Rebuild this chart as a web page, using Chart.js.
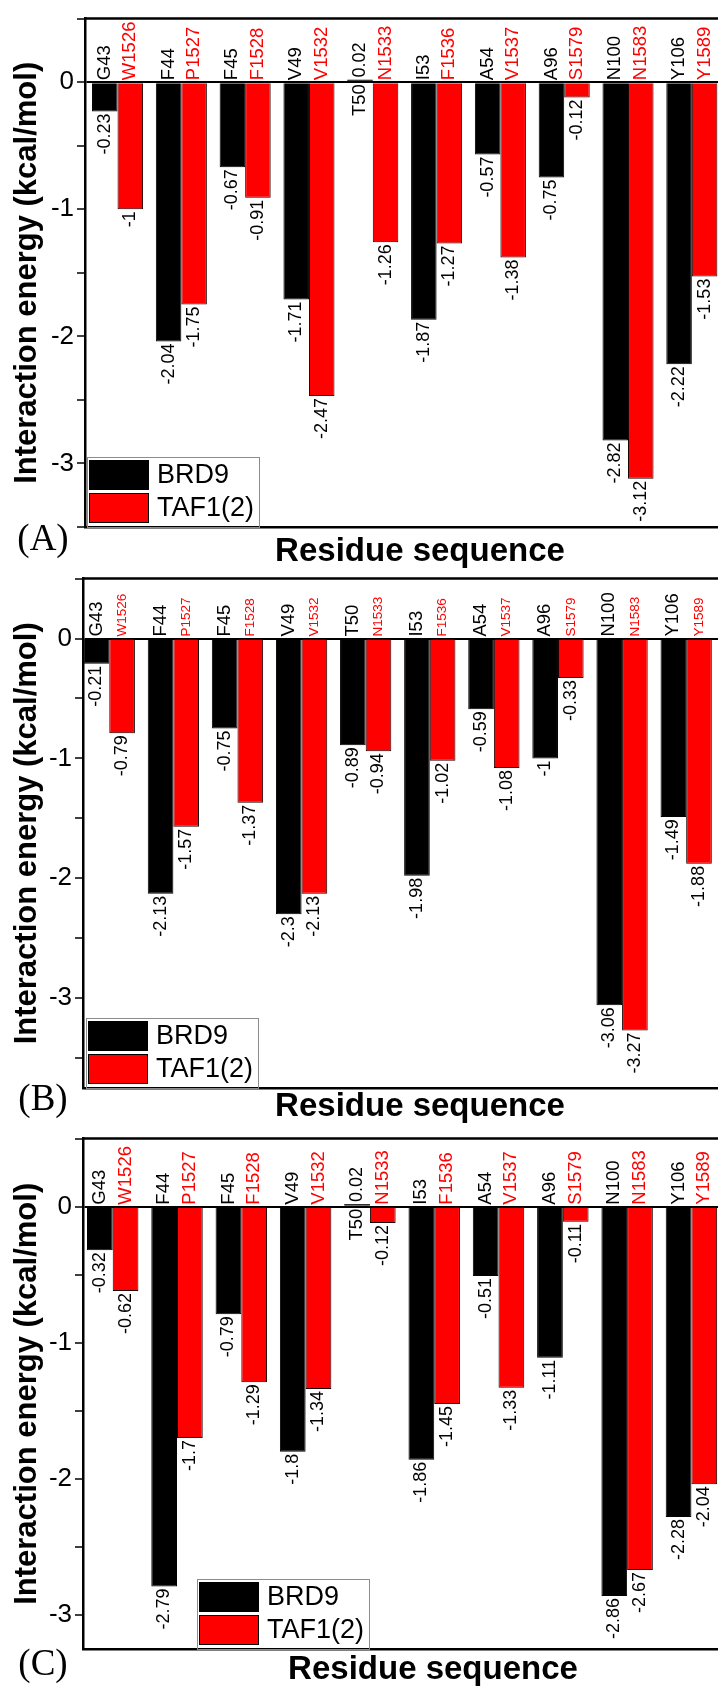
<!DOCTYPE html>
<html>
<head>
<meta charset="utf-8">
<title>Residue interaction energy</title>
<script src="https://cdn.jsdelivr.net/npm/chart.js@4.4.1/dist/chart.umd.min.js"></script>
<style>
  html, body { margin: 0; padding: 0; background: #fff; }
  #page { position: relative; width: 718px; height: 1690px; overflow: hidden; background: #fff; }
  #page canvas { position: absolute; left: 0; }
</style>
</head>
<body>
<div id="page">
  <canvas id="chartA" width="760" height="577" style="top:0px"></canvas>
  <canvas id="chartB" width="762" height="578" style="top:560px"></canvas>
  <canvas id="chartC" width="790" height="570" style="top:1120px"></canvas>
</div>
<script>
  // residues, one bar pair per residue position
  var brd9Residues = ["G43", "F44", "F45", "V49", "T50", "I53", "A54", "A96", "N100", "Y106"];
  var taf1Residues = ["W1526", "P1527", "F1528", "V1532", "N1533", "F1536", "V1537", "S1579", "N1583", "Y1589"];

  // interaction energies (kcal/mol)
  var brd9A = [-0.23, -2.04, -0.67, -1.71, 0.02, -1.87, -0.57, -0.75, -2.82, -2.22];
  var taf1A = [-1, -1.75, -0.91, -2.47, -1.26, -1.27, -1.38, -0.12, -3.12, -1.53];

  var brd9B = [-0.21, -2.13, -0.75, -2.3, -0.89, -1.98, -0.59, -1, -3.06, -1.49];
  var taf1B = [-0.79, -1.57, -1.37, -2.13, -0.94, -1.02, -1.08, -0.33, -3.27, -1.88];

  var brd9C = [-0.32, -2.79, -0.79, -1.8, 0.02, -1.86, -0.51, -1.11, -2.86, -2.28];
  var taf1C = [-0.62, -1.7, -1.29, -1.34, -0.12, -1.45, -1.33, -0.11, -2.67, -2.04];

  var seriesNames = ["BRD9", "TAF1(2)"];
  var yTitle = "Interaction energy (kcal/mol)";
  var xTitle = "Residue sequence";

  var SANS = '"Liberation Sans", Arial, sans-serif';
  var SERIF = '"Liberation Serif", "Times New Roman", serif';
  var RED = "#ff0000";

  Chart.defaults.font.family = SANS;
  Chart.defaults.color = "#000";

  function toPoints(values) {
    return values.map(function (v, i) { return { x: i, y: v }; });
  }

  function drawRotated(ctx, text, x, y, align, font, color) {
    ctx.save();
    ctx.translate(x, y);
    ctx.rotate(-Math.PI / 2);
    ctx.font = font;
    ctx.fillStyle = color;
    ctx.textAlign = align;
    ctx.textBaseline = "middle";
    ctx.fillText(text, 0, 0);
    ctx.restore();
  }

  /** top (and right) border of the plot box */
  var frame = {
    id: "frame",
    afterDraw: function (chart) {
      var a = chart.chartArea, ctx = chart.ctx;
      ctx.save();
      ctx.strokeStyle = "#000";
      ctx.lineWidth = 2.5;
      ctx.beginPath();
      ctx.moveTo(a.left - 1, a.top);
      ctx.lineTo(a.right, a.top);
      ctx.lineTo(a.right, a.bottom);
      ctx.stroke();
      ctx.restore();
    }
  };

  /** residue name on the zero side, value at the bar end, both turned 90 degrees */
  var barLabels = {
    id: "barLabels",
    afterDatasetsDraw: function (chart, args, opts) {
      var ctx = chart.ctx;
      chart.data.datasets.forEach(function (ds, d) {
        var meta = chart.getDatasetMeta(d);
        meta.data.forEach(function (bar, i) {
          var v = ds.data[i].y;
          var up = v >= 0;
          drawRotated(ctx, ds.residues[i], bar.x, up ? bar.base + 3 : bar.base - 3,
            up ? "right" : "left", ds.nameFont, ds.nameColor);
          drawRotated(ctx, String(v), bar.x, up ? bar.y - 2 : bar.y + 2,
            up ? "left" : "right", opts.valueFont, "#000");
        });
      });
    }
  };

  /** boxed legend sitting on the bottom axis */
  var boxLegend = {
    id: "boxLegend",
    afterDatasetsDraw: function (chart, args, opts) {
      var a = chart.chartArea, ctx = chart.ctx;
      var w = 172, h = 70;
      var x = a.left + opts.offset, y = a.bottom - h;
      ctx.save();
      ctx.fillStyle = "#fff";
      ctx.fillRect(x, y, w, h - 1.5);
      ctx.strokeStyle = "#8c8c8c";
      ctx.lineWidth = 1;
      ctx.strokeRect(x + 0.5, y + 0.5, w, h);
      chart.data.datasets.forEach(function (ds, i) {
        var sy = y + 3 + i * 33;
        ctx.fillStyle = ds.backgroundColor;
        ctx.fillRect(x + 2, sy, 60, 30);
        ctx.strokeStyle = "#000";
        ctx.strokeRect(x + 2.5, sy + 0.5, 59, 29);
        ctx.fillStyle = "#000";
        ctx.font = "27px " + SANS;
        ctx.textAlign = "left";
        ctx.textBaseline = "middle";
        ctx.fillText(ds.label, x + 70, sy + 16);
      });
      ctx.restore();
    }
  };

  /** (A) / (B) / (C) tag under the y axis */
  var panelTag = {
    id: "panelTag",
    afterDraw: function (chart, args, opts) {
      var ctx = chart.ctx;
      ctx.save();
      ctx.font = "37px " + SERIF;
      ctx.fillStyle = "#000";
      ctx.textAlign = "center";
      ctx.textBaseline = "middle";
      ctx.fillText(opts.text, opts.x, opts.y);
      ctx.restore();
    }
  };

  function halfSteps(scale) {
    var ticks = [];
    for (var k = Math.ceil(scale.min / 0.5); k * 0.5 <= scale.max + 1e-9; k++) {
      ticks.push({ value: k * 0.5 });
    }
    scale.ticks = ticks;
  }

  function makeChart(id, p) {
    return new Chart(document.getElementById(id), {
      type: "bar",
      data: {
        datasets: [
          {
            label: seriesNames[0],
            data: toPoints(p.brd9),
            backgroundColor: "#000",
            borderColor: "#000",
            borderWidth: 1,
            residues: brd9Residues,
            nameFont: "18.5px " + SANS,
            nameColor: "#000"
          },
          {
            label: seriesNames[1],
            data: toPoints(p.taf1),
            backgroundColor: RED,
            borderColor: "#1a0000",
            borderWidth: 1,
            residues: taf1Residues,
            nameFont: p.redNameSize + "px " + SANS,
            nameColor: RED
          }
        ]
      },
      options: {
        responsive: false,
        animation: false,
        devicePixelRatio: 1,
        layout: { padding: { top: p.padTop, right: p.padRight, left: 0, bottom: 0 } },
        datasets: { bar: { categoryPercentage: 0.8, barPercentage: 1 } },
        plugins: {
          legend: { display: false },
          tooltip: { enabled: false },
          barLabels: { valueFont: "18px " + SANS },
          boxLegend: { offset: p.legendOffset },
          panelTag: { text: p.tag, x: 43, y: p.tagY }
        },
        scales: {
          x: {
            type: "linear",
            min: p.xMin,
            max: p.xMax,
            offset: false,
            afterBuildTicks: function (s) {
              s.ticks = brd9Residues.map(function (r, i) { return { value: i }; });
            },
            afterFit: function (s) { s.height = p.xHeight; },
            ticks: { display: false },
            grid: { display: true, offset: false, drawOnChartArea: false, drawTicks: false },
            border: { color: "#000", width: 2.5 },
            title: {
              display: true,
              text: xTitle,
              color: "#000",
              font: { size: 33, weight: "bold" },
              padding: { top: 0, bottom: p.xTitlePad }
            }
          },
          y: {
            min: p.yMin,
            max: p.yMax,
            afterBuildTicks: halfSteps,
            afterFit: function (s) { s.width = p.yWidth; },
            ticks: {
              autoSkip: false,
              color: "#000",
              padding: 3,
              font: { size: 26 },
              callback: function (v) { return v % 1 === 0 ? String(v) : ""; }
            },
            grid: {
              color: function (c) { return c.tick && c.tick.value === 0 ? "#000" : "rgba(0,0,0,0)"; },
              lineWidth: 2,
              tickColor: "#000",
              tickLength: 8,
              tickWidth: 1.5
            },
            border: { color: "#000", width: 2.5 },
            title: {
              display: true,
              text: yTitle,
              color: "#000",
              font: { size: 31, weight: "bold" },
              padding: { top: 9, bottom: 0 }
            }
          }
        }
      },
      plugins: [frame, barLabels, boxLegend, panelTag]
    });
  }

  makeChart("chartA", {
    brd9: brd9A, taf1: taf1A, tag: "(A)", tagY: 540,
    yMin: -3.5, yMax: 0.5, xMin: -0.51, xMax: 9.99,
    padTop: 14, padRight: 5, yWidth: 85, xHeight: 50, xTitlePad: 5,
    legendOffset: 2, redNameSize: 18.5
  });

  makeChart("chartB", {
    brd9: brd9B, taf1: taf1B, tag: "(B)", tagY: 540,
    yMin: -3.75, yMax: 0.5, xMin: -0.41, xMax: 10.105,
    padTop: 15, padRight: 5, yWidth: 83, xHeight: 50, xTitlePad: 11,
    legendOffset: 3, redNameSize: 13.5
  });

  makeChart("chartC", {
    brd9: brd9C, taf1: taf1C, tag: "(C)", tagY: 545,
    yMin: -3.25, yMax: 0.5, xMin: -0.462, xMax: 10.424,
    padTop: 15, padRight: 7, yWidth: 83, xHeight: 41, xTitlePad: 0,
    legendOffset: 114, redNameSize: 18.5
  });
</script>
</body>
</html>
